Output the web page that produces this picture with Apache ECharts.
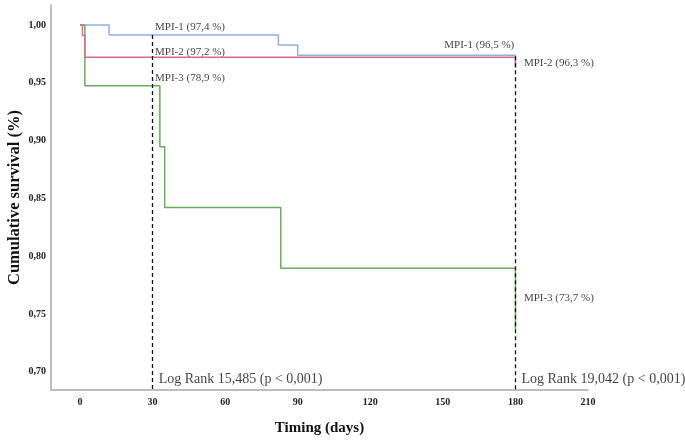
<!DOCTYPE html>
<html lang="en">
<head>
    <meta charset="UTF-8">
    <title>Cumulative survival</title>
    <script type="text/javascript" src="https://cdn.jsdelivr.net/npm/echarts@6/dist/echarts.min.js"></script>
</head>
<body>
<div id="chart" class="chart"></div>
</body>
<style>
    * {
        padding: 0;
        margin: 0;
    }

    html, body {
        width: 100%;
        height: 100%;
        background-color: white;
    }

    .chart {
        width: 685px;
        height: 441px;
    }
</style>
<script>

    // Kaplan-Meier steps: [day, cumulative survival]
    let mpi1 = [[0, 1], [12, 0.9913], [82, 0.9826], [90, 0.9739], [180, 0.9652]]
    let mpi2 = [[0, 1], [1, 0.991], [2, 0.972], [180, 0.963]]
    let mpi3 = [[0, 1], [2, 0.9474], [33, 0.8947], [35, 0.8421], [83, 0.7895], [180, 0.7368]]

    let xTicks = [0, 30, 60, 90, 120, 150, 180, 210]
    let yTicks = [0.70, 0.75, 0.80, 0.85, 0.90, 0.95, 1.00]

    // vertical cut-off lines: [day, top value]
    let cutoffs = [[30, 0.9913], [180, 0.973]]

    // annotations: [day, value, text]
    let notes = [
        [31, 0.998, 'MPI-1 (97,4 %)'],
        [31, 0.9769, 'MPI-2 (97,2 %)'],
        [31, 0.9539, 'MPI-3 (78,9 %)'],
        [183.5, 0.9674, 'MPI-2 (96,3 %)'],
        [183.5, 0.7641, 'MPI-3 (73,7 %)']
    ]
    let notesRight = [[179.5, 0.9827, 'MPI-1 (96,5 %)']]
    let logRank = [
        [32.5, 0.6934, 'Log Rank 15,485 (p < 0,001)'],
        [182.5, 0.6934, 'Log Rank 19,042 (p < 0,001)']
    ]

    const serif = '"Liberation Serif", "DejaVu Serif", serif'
    const yMin = 0.6842
    const yMax = 1.0173

    const fmt = function (v) {
        return v.toFixed(2).replace('.', ',')
    }

    const kmLine = function (name, data, color) {
        return {
            name: name,
            type: 'line',
            step: 'end',
            data: data,
            symbol: 'none',
            lineStyle: {color: color, width: 1.5},
            z: 3
        }
    }

    const textSeries = function (data, size, align) {
        return {
            type: 'scatter',
            data: data,
            symbolSize: 0,
            silent: true,
            z: 5,
            label: {
                show: true,
                position: 'inside',
                align: align,
                verticalAlign: 'middle',
                fontFamily: serif,
                fontSize: size,
                color: '#111',
                formatter: (p) => p.data[2]
            }
        }
    }

    let chart = echarts.init(document.getElementById('chart'))

    chart.setOption({
        animation: false,
        grid: {left: 51, right: 97, top: 5, bottom: 51, containLabel: false, outerBoundsMode: 'none'},
        xAxis: {
            type: 'value',
            min: -12,
            max: 210,
            name: 'Timing (days)',
            nameLocation: 'middle',
            nameGap: 31,
            nameMoveOverlap: false,
            nameTextStyle: {fontFamily: serif, fontWeight: 'bold', fontSize: 15, color: '#111'},
            axisLine: {show: true, onZero: false, lineStyle: {color: '#a8a8a8', width: 1.5}},
            axisTick: {show: false},
            splitLine: {show: false},
            axisLabel: {
                customValues: xTicks,
                margin: 7,
                fontFamily: serif,
                fontWeight: 'bold',
                fontSize: 10,
                color: '#222'
            }
        },
        yAxis: {
            type: 'value',
            min: yMin,
            max: yMax,
            name: 'Cumulative survival (%)',
            nameLocation: 'middle',
            nameGap: 28,
            nameMoveOverlap: false,
            nameTextStyle: {fontFamily: serif, fontWeight: 'bold', fontSize: 16.5, color: '#111'},
            axisLine: {show: true, onZero: false, lineStyle: {color: '#a8a8a8', width: 1.5}},
            axisTick: {show: false},
            splitLine: {show: false},
            axisLabel: {
                customValues: yTicks,
                margin: 5,
                fontFamily: serif,
                fontWeight: 'bold',
                fontSize: 10,
                color: '#222',
                formatter: fmt
            }
        },
        series: [
            kmLine('MPI-1', mpi1, '#8eb3e2'),
            kmLine('MPI-3', mpi3, '#6aad5c'),
            kmLine('MPI-2', mpi2, '#d2708c'),
            {
                type: 'line',
                data: [],
                markLine: {
                    silent: true,
                    symbol: 'none',
                    label: {show: false},
                    lineStyle: {color: '#111', type: [4, 3], width: 1.3},
                    data: cutoffs.map(c => [{coord: [c[0], c[1]]}, {coord: [c[0], yMin]}])
                }
            },
            textSeries(notes, 11, 'left'),
            textSeries(notesRight, 11, 'right'),
            textSeries(logRank, 14, 'left')
        ]
    })

</script>
</html>
